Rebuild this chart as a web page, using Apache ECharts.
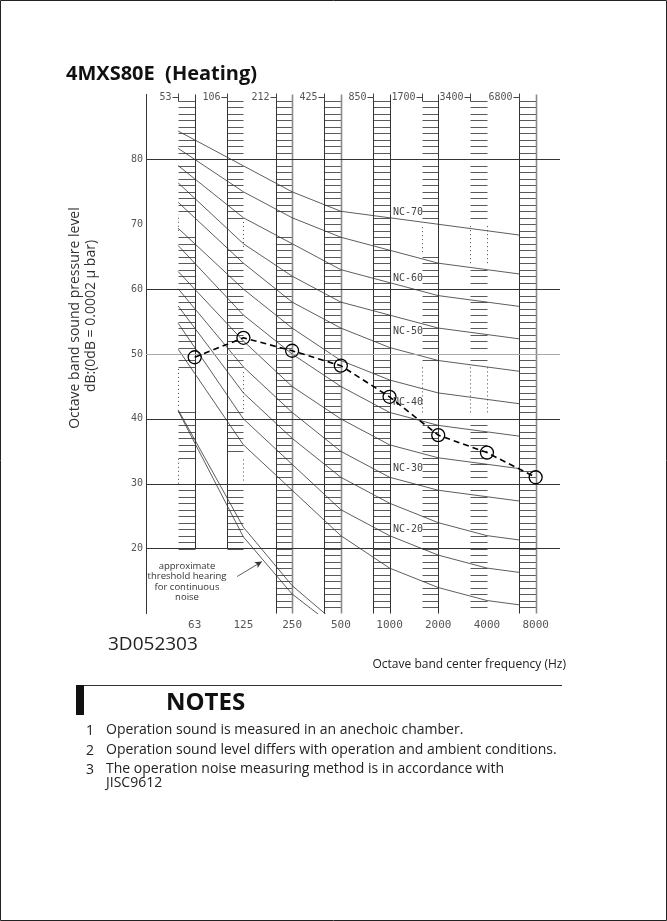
<!DOCTYPE html>
<html><head><meta charset="utf-8">
<script src="https://cdn.jsdelivr.net/npm/echarts@6/dist/echarts.min.js"></script>
<style>html,body{margin:0;padding:0;background:#fff}#c{width:667px;height:921px}</style>
</head><body><div id="c"></div>
<script>
// ---------- data ----------
const categories = ['63','125','250','500','1000','2000','4000','8000'];
const bandLabels = ['53','106','212','425','850','1700','3400','6800'];
const yTickLabels = [20,30,40,50,60,70,80];
const gridLevels = [20,30,40,50,60,80];
const measured = [49.5,52.5,50.5,48.2,43.4,37.5,34.8,31.0];
const nc70 = [83,79,75,72,71,70,69,68];
const nc65 = [80,75,71,68,66,64,63,62];
const nc60 = [77,71,67,63,61,59,58,57];
const nc55 = [74,67,62,58,56,54,53,52];
const nc50 = [71,64,58,54,51,49,48,47];
const nc45 = [67,60,54,49,46,44,43,42];
const nc40 = [64,56,50,45,41,39,38,37];
const nc35 = [60,52,45,40,36,34,33,32];
const nc30 = [57,48,41,35,31,29,28,27];
const nc25 = [54,44,37,31,27,24,22,21];
const nc20 = [51,40,33,26,22,19,17,16];
const nc15 = [47,36,29,22,17,14,12,11];
const threshold1 = [36.8,23.3,14.3,7.9];
const threshold2 = [36.3,21.8,13.0,7.2];
const ncLabels = ['NC-70','NC-60','NC-50','NC-40','NC-30','NC-20'];
const ncLabelCurves = [nc70,nc60,nc50,nc40,nc30,nc20];
const thresholdNote = ['approximate','threshold hearing','for continuous','noise'];
const notes = [
  ['1','Operation sound is measured in an anechoic chamber.'],
  ['2','Operation sound level differs with operation and ambient conditions.'],
  ['3','The operation noise measuring method is in accordance with\nJISC9612']
];

// ---------- drawing details ----------
const bandW = 0.34;
const bandTop = 89, bandLineTop = 90;
const bandStyle = [
  {lo:20, left:'none',  right:'solid', gaps:[[69,71.5],[42,47.8],[30,33.8]]},
  {lo:20, left:'solid', right:'none',  gaps:[[66.5,70.5],[41.5,47.5],[30.5,34]]},
  {lo:10, left:'solid', right:'gray',  gaps:[[68.8,71]]},
  {lo:10, left:'solid', right:'gray',  gaps:[]},
  {lo:10, left:'solid', right:'solid', gaps:[]},
  {lo:10, left:'none',  right:'solid', gaps:[[65.7,70],[41,48]]},
  {lo:10, left:'none',  right:'none',  gaps:[[64,70],[41,48]]},
  {lo:10, left:'solid', right:'gray',  gaps:[]}
];
const ncLabelLift = [0.9,0.7,2.5,1.6,1.3,1.0];

const crisp = v => Math.round(v) + 0.5;

function renderBand(params, api) {
  const k = params.dataIndex;
  const b = bandStyle[k];
  const xl = crisp(api.coord([k - bandW, 50])[0]);
  const xr = crisp(api.coord([k, 50])[0]);
  const Y = v => api.coord([0, v])[1];
  const ch = [];
  const ln = (x1,y1,x2,y2,stroke,w,dash) => ch.push({type:'line', shape:{x1,y1,x2,y2},
      style:{stroke, lineWidth:w, lineDash:dash||null}});
  const inGap = v => b.gaps.some(g => v >= g[0] && v <= g[1]);
  for (let v = Math.ceil(b.lo); v <= bandTop; v++) {
    if (v === b.lo && b.lo === 10) continue;
    if (inGap(v)) continue;
    ln(xl, crisp(Y(v)), xr, crisp(Y(v)), '#5a5a5a', 1);
  }
  [['left', xl], ['right', xr]].forEach(([side, x]) => {
    const s = b[side];
    if (s === 'solid') ln(x, Y(b.lo), x, Y(bandLineTop), '#333', 1);
    else if (s === 'gray') ln(x, Y(b.lo), x, Y(bandLineTop), '#8a8a8a', 1.6);
    else b.gaps.forEach(g => ln(x, Y(g[0]), x, Y(g[1]), '#444', 1, [1,3]));
  });
  const yt = crisp(Y(bandLineTop));
  ln(xl - 6, yt + 2, xl, yt + 2, '#444', 1);
  ln(xl, yt - 2, xl, yt + 6, '#444', 1);
  ch.push({type:'text', x: xl - 7, y: yt + 2, style:{text: bandLabels[k], align:'right',
    verticalAlign:'middle', font:'10px "DejaVu Sans Mono"', fill:'#555'}});
  return {type:'group', children: ch};
}

function curve(vals) {
  const pts = [[-bandW, vals[0] + (vals[0] - vals[1]) * bandW]];
  for (let k = 0; k < 7; k++) pts.push([k, vals[k]]);
  pts.push([7 - bandW, vals[6] + (vals[7] - vals[6]) * (1 - bandW)]);
  return pts;
}
function thresholdCurve(vals) {
  const pts = [[-bandW, vals[0] + (vals[0] - vals[1]) * bandW]];
  vals.forEach((v, k) => pts.push([k, v]));
  return pts;
}

const ncSets = [nc70,nc65,nc60,nc55,nc50,nc45,nc40,nc35,nc30,nc25,nc20,nc15];
const series = [];

series.push({
  type:'custom', name:'bands', silent:true, z:1,
  data: categories.map((c, k) => [k]),
  renderItem: renderBand, clip:false
});
series.push({
  type:'line', name:'grid', data:[], silent:true, z:2,
  markLine:{silent:true, symbol:['none','none'], label:{show:false}, animation:false,
    data: gridLevels.map(v => ({yAxis:v, lineStyle:{color: v === 50 ? '#a8a8a8' : '#333', width:1, type:'solid'}}))}
});
ncSets.forEach((vals, n) => series.push({
  type:'line', name:'NC' + n, data: curve(vals), symbol:'none', silent:true, z:3,
  lineStyle:{color:'#333', width:0.8}
}));
series.push({
  type:'line', name:'threshold1', data: thresholdCurve(threshold1), symbol:'none', silent:true, z:3,
  lineStyle:{color:'#333', width:0.8}, clip:true,
  markLine:{silent:true, symbol:['none','arrow'], symbolSize:[5,7], label:{show:false},
    lineStyle:{color:'#333', width:0.8, type:'solid'},
    data:[[{coord:[0.87,15.7]},{coord:[1.38,18.0]}]]}
});
series.push({
  type:'line', name:'threshold2', data: thresholdCurve(threshold2), symbol:'none', silent:true, z:3,
  lineStyle:{color:'#333', width:0.8}, clip:true
});
series.push({
  type:'custom', name:'nclabels', silent:true, z:4, clip:false,
  data: ncLabels.map((t, n) => [4.07, ncLabelCurves[n][4] + ncLabelLift[n]]),
  renderItem: (params, api) => {
    const p = api.coord([api.value(0), api.value(1)]);
    return {type:'text', x:p[0], y:p[1], style:{text: ncLabels[params.dataIndex], align:'left',
      verticalAlign:'middle', font:'10px "DejaVu Sans Mono"', fill:'#444'}};
  }
});
series.push({
  type:'line', name:'measured', data: measured.map((v, k) => [k, v]), z:6,
  symbol:'circle', symbolSize:13,
  itemStyle:{color:'rgba(0,0,0,0)', borderColor:'#000', borderWidth:1.3},
  lineStyle:{color:'#000', width:1.6, type:[6,4]}
});

const chart = echarts.init(document.getElementById('c'), null, {renderer:'canvas'});
const textFont = '"Open Sans", "DejaVu Sans", sans-serif';
const graphic = [
  {type:'rect', shape:{x:0.5, y:0.5, width:666, height:920}, style:{fill:'none', stroke:'#222', lineWidth:1}},
  {type:'text', x:66, y:74, style:{text:'4MXS80E  (Heating)', font:'bold 20px ' + textFont, fill:'#111', verticalAlign:'middle'}},
  {type:'text', x:75, y:318, rotation:Math.PI/2, style:{text:'Octave band sound pressure level', font:'14px ' + textFont, fill:'#333', align:'center', verticalAlign:'middle'}},
  {type:'text', x:91, y:316, rotation:Math.PI/2, style:{text:'dB:(0dB = 0.0002 \u03bc bar)', font:'14px ' + textFont, fill:'#333', align:'center', verticalAlign:'middle'}},
  {type:'text', x:108, y:645, style:{text:'3D052303', font:'19px ' + textFont, fill:'#222', verticalAlign:'middle'}},
  {type:'text', x:566, y:665, style:{text:'Octave band center frequency (Hz)', font:'12px ' + textFont, fill:'#222', align:'right', verticalAlign:'middle'}},
  {type:'rect', shape:{x:76, y:685, width:8, height:30}, style:{fill:'#111'}},
  {type:'line', shape:{x1:84, y1:685.5, x2:562, y2:685.5}, style:{stroke:'#333', lineWidth:1}},
  {type:'text', x:166, y:703, style:{text:'NOTES', font:'bold 24px ' + textFont, fill:'#111', verticalAlign:'middle'}}
];
thresholdNote.forEach((t, n) => graphic.push({type:'text', x:187, y:566 + n * 10.5,
  style:{text:t, font:'9.5px ' + textFont, fill:'#333', align:'center', verticalAlign:'middle'}}));
const noteY = [731, 751, 770];
notes.forEach((nt, n) => {
  graphic.push({type:'text', x:86, y:noteY[n], style:{text:nt[0], font:'14px ' + textFont, fill:'#222', verticalAlign:'middle'}});
  graphic.push({type:'text', x:106, y:noteY[n] - 8, style:{text:nt[1], font:'14px ' + textFont, fill:'#222', verticalAlign:'top', lineHeight:14}});
});

chart.setOption({
  animation:false,
  backgroundColor:'#fff',
  grid:{left:146, right:107, top:94.5, bottom:307.5, containLabel:false},
  xAxis:{type:'value', min:-1, max:7.5, interval:1,
    axisLine:{show:false, onZero:false}, axisTick:{show:false}, splitLine:{show:false},
    axisLabel:{formatter: v => categories[v] || '', margin:6, color:'#555',
      fontFamily:'DejaVu Sans Mono', fontSize:11, showMaxLabel:false}},
  yAxis:{type:'value', min:10, max:90, interval:10,
    axisLine:{show:true, onZero:false, lineStyle:{color:'#333', width:1}}, axisTick:{show:false}, splitLine:{show:false},
    axisLabel:{formatter: v => yTickLabels.includes(v) ? String(v) : '', margin:3, color:'#555',
      fontFamily:'DejaVu Sans Mono', fontSize:10}},
  graphic: graphic,
  series: series
});
</script></body></html>
